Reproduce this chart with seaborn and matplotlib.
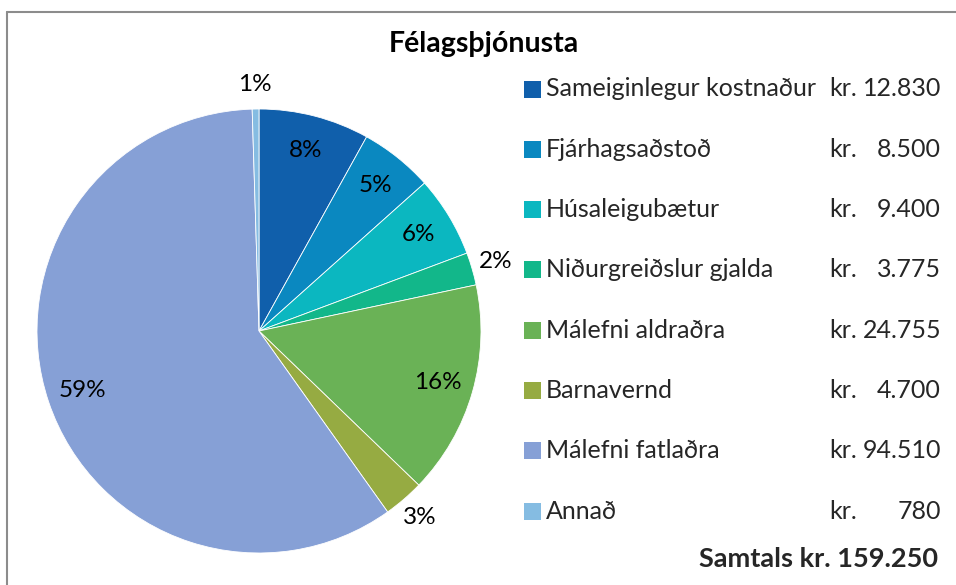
import matplotlib
matplotlib.use("Agg")
import matplotlib.pyplot as plt
import seaborn as sns
import numpy as np
from matplotlib.patches import Rectangle
from matplotlib.lines import Line2D

# ---- data ----
categories = ["Sameiginlegur kostnaður", "Fjárhagsaðstoð", "Húsaleigubætur",
              "Niðurgreiðslur gjalda", "Málefni aldraðra", "Barnavernd",
              "Málefni fatlaðra", "Annað"]
values = [12830, 8500, 9400, 3775, 24755, 4700, 94510, 780]
pct_labels = ["8%", "5%", "6%", "2%", "16%", "3%", "59%", "1%"]
outside = [False, False, False, True, False, True, False, True]
title = "Félagsþjónusta"
total_label = "Samtals kr. 159.250"
colors = ["#105FAB", "#0A88C0", "#0BB7C0", "#12B78A",
          "#6AB256", "#96AB42", "#86A0D6", "#85BCE2"]

sns.set_theme(style="white")
plt.rcParams["font.family"] = ["Lato", "DejaVu Sans"]
palette = sns.color_palette(colors)

W, H = 956, 585
fig = plt.figure(figsize=(W / 100, H / 100), dpi=100)
fig.patch.set_facecolor("white")

def fx(px):
    return px / W

def fy(py):
    return 1 - py / H

# pie axes: center (259, 331), radius 222 px
cx, cy, r = 259, 331, 222
ax = fig.add_axes([fx(cx - r), fy(cy + r), 2 * r / W, 2 * r / H])
wedges, texts, autotexts = ax.pie(
    values, colors=palette, startangle=90, counterclock=False,
    autopct="%1.0f%%", pctdistance=0.84, radius=1.0,
    wedgeprops=dict(edgecolor="white", linewidth=0.6),
    textprops=dict(fontsize=17.5, color="black"))
for w, t, lab, out in zip(wedges, autotexts, pct_labels, outside):
    t.set_text(lab)
    if out:
        ang = np.deg2rad((w.theta1 + w.theta2) / 2)
        t.set_position((1.11 * np.cos(ang), 1.11 * np.sin(ang)))
ax.set_xlim(-1, 1)
ax.set_ylim(-1, 1)
ax.set_aspect("auto")
ax.axis("off")

# title
fig.text(fx(484), fy(44), title, ha="center", va="center",
         fontsize=20.5, fontweight="bold", color="black")

# legend (manual)
for i, (name, val, col) in enumerate(zip(categories, values, palette)):
    yc = 89 + i * 60.3
    fig.patches.append(Rectangle((fx(524), fy(yc + 8.5)), 17 / W, 17 / H,
                                 transform=fig.transFigure, facecolor=col,
                                 edgecolor="none"))
    fig.text(fx(546), fy(yc), name, ha="left", va="center", fontsize=18)
    fig.text(fx(829), fy(yc), "kr.", ha="left", va="center", fontsize=18)
    fig.text(fx(941), fy(yc), f"{val:,}".replace(",", "."), ha="right",
             va="center", fontsize=18)

fig.text(fx(938), fy(559), total_label, ha="right", va="center",
         fontsize=19.5, fontweight="bold")

# frame
fig.lines.append(Line2D([fx(7), fx(7)], [fy(12), 0], transform=fig.transFigure,
                        color="#8c8c8c", linewidth=1.5))
fig.lines.append(Line2D([fx(7), 1], [fy(12), fy(12)], transform=fig.transFigure,
                        color="#8c8c8c", linewidth=1.5))

fig.savefig("out.png", dpi=100)
